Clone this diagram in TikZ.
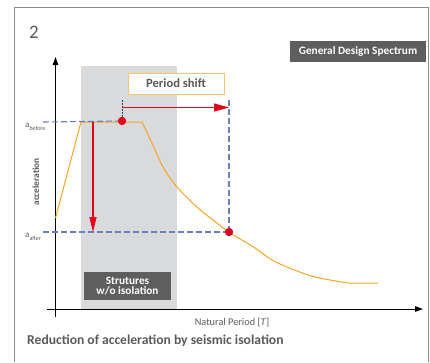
\documentclass[tikz,border=0pt]{standalone}
\usepackage{fontspec}
\setmainfont{Carlito}
\usetikzlibrary{arrows.meta}
\definecolor{framec}{HTML}{8C8C8C}
\definecolor{zonec}{HTML}{D9DADC}
\definecolor{darkbox}{HTML}{5E5E5E}
\definecolor{textc}{HTML}{5A5A5A}
\definecolor{curvec}{HTML}{F5A623}
\definecolor{shiftc}{HTML}{F8C56A}
\definecolor{dashc}{HTML}{6F7DBB}
\definecolor{navyc}{HTML}{2B3A7A}
\definecolor{redc}{HTML}{E3001B}
\tikzset{
  darklabel/.style={fill=darkbox, text=white, font=\bfseries\fontsize{11.3}{12.5}\selectfont, inner sep=0pt, align=center},
  levelline/.style={dashc, line width=1.1pt, dash pattern=on 6pt off 3pt},
  redarrow/.style={draw=redc, line width=1.1pt, -{Triangle[length=15pt,width=8pt,fill=redc]}},
  axisline/.style={black, line width=1pt, -{Triangle[length=8pt,width=5.5pt]}},
  reddot/.style={circle, fill=redc, minimum size=8pt, inner sep=0pt},
  graytext/.style={text=textc, inner sep=0pt},
}
\begin{document}
\begin{tikzpicture}[x=1pt,y=-1pt]
\useasboundingbox (0,0) rectangle (430,362);
% frame
\draw[framec, line width=1pt] (14,362) -- (14,7) -- (428,7) -- (428,362);
% shaded zone of structures without isolation
\fill[zonec] (81,66) rectangle (177,309);
% axes
\coordinate (yb) at (55.5,317);
\coordinate (yt) at (55.5,57);
\coordinate (xl) at (47,309);
\coordinate (xr) at (423,309);
\draw[axisline] (yb) -- (yt);
\draw[axisline] (xl) -- (xr);
% spectrum curve
\draw[curvec, line width=1pt] (55.5,218) -- (81,122) -- (142,122);
\draw[curvec, line width=1pt] plot[smooth, tension=0.55] coordinates {(142,122) (152,143) (163,167) (177,187) (197,207) (213,220) (229,232) (255,248) (272,260) (292,269) (315,277) (348,283)} -- (378,283);
% points
\node[reddot] (p1) at (122,121) {};
\node[reddot] (p2) at (229,232) {};
% level lines
\coordinate (bl) at (43,122);
\coordinate (al) at (43,232);
\coordinate (vt) at (229,100);
\coordinate (nt) at (122,100);
\draw[levelline] (bl) -- (p1.center);
\draw[levelline] (al) -- (p2.center);
\draw[levelline] (vt) -- (p2.center);
\draw[navyc, line width=0.7pt, dash pattern=on 2pt off 1pt] (nt) -- (p1.north);
% arrows
\coordinate (hs) at (122,107.5);
\coordinate (he) at (229,107.5);
\draw[redarrow] (hs) -- (he);
\coordinate (vs) at (93,122);
\coordinate (ve) at (93,232);
\draw[redarrow, -{Triangle[length=15pt,width=7pt,fill=redc]}] (vs) -- (ve);
\fill[redc] (p1) circle (4pt);
\fill[redc] (p2) circle (4pt);
% labels
\node[graytext, font=\fontsize{19}{21}\selectfont] (num) at (34,32) {2};
\node[darklabel, minimum width=136pt, minimum height=21pt] (gds) at (358,51.5) {General Design Spectrum};
\node[draw=shiftc, line width=1pt, fill=white, text=textc, font=\bfseries\fontsize{12.6}{14}\selectfont, minimum width=96pt, minimum height=21pt, inner sep=0pt] (ps) at (176,83.5) {Period shift};
\node[darklabel, minimum width=87pt, minimum height=28pt] (swo) at (127.5,286) {Strutures\\[-2pt]w/o isolation};
\node[graytext, anchor=west, font=\fontsize{9}{10}\selectfont] (ab) at (25,127) {a\raisebox{-2.5pt}{\fontsize{6}{7}\selectfont before}};
\node[graytext, anchor=west, font=\fontsize{9}{10}\selectfont] (aa) at (25,237) {a\raisebox{-2.5pt}{\fontsize{6}{7}\selectfont after}};
\node[graytext, rotate=90, font=\bfseries\fontsize{9.3}{10}\selectfont] (acc) at (36,182) {acceleration};
\node[graytext, font=\fontsize{10.3}{11}\selectfont] (np) at (232,322) {Natural Period [\textit{T}]};
\node[graytext, anchor=west, font=\bfseries\fontsize{13.6}{15}\selectfont] (cap) at (27,341) {Reduction of acceleration by seismic isolation};
\end{tikzpicture}
\end{document}
